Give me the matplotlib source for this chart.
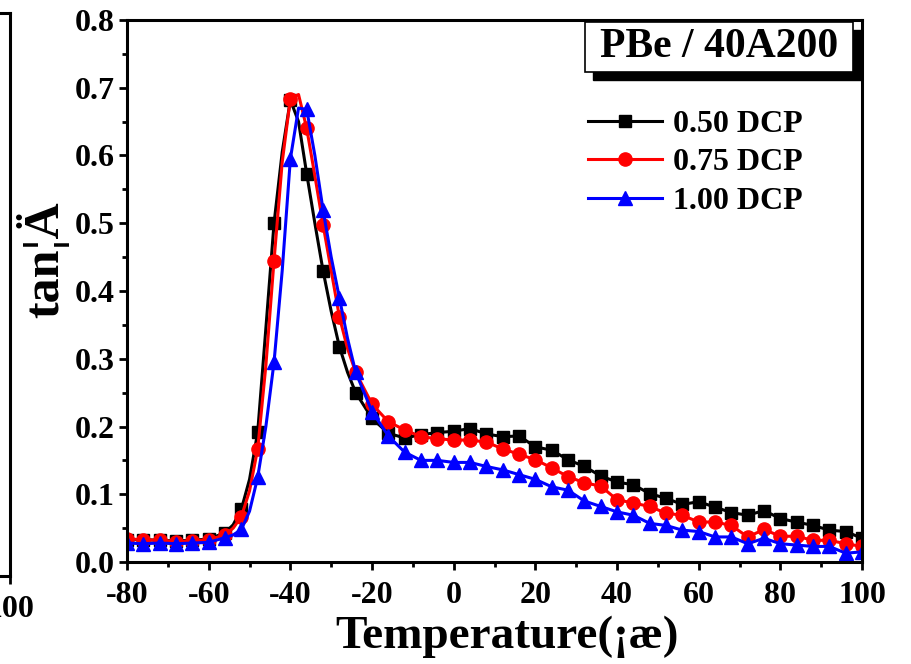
import numpy as np
import matplotlib
matplotlib.use('Agg')
import matplotlib.pyplot as plt
from matplotlib.patches import Rectangle

plt.rcParams['font.family'] = ['Liberation Serif', 'DejaVu Serif']
plt.rcParams['font.weight'] = 'bold'
plt.rcParams['axes.unicode_minus'] = False

# temperature (C), finer steps around the glass transition peak
temp = [-80, -76, -72, -68, -64, -60, -56,
        -54, -52, -50, -48, -46, -44, -42, -40, -38, -36, -34, -32, -30, -28, -26, -24,
        -20, -16, -12, -8, -4, 0, 4, 8, 12, 16, 20, 24, 28, 32, 36, 40, 44, 48,
        52, 56, 60, 64, 68, 72, 76, 80, 84, 88, 92, 96, 100]

dcp_050 = [0.033, 0.033, 0.032, 0.031, 0.032, 0.034, 0.043,
           0.055, 0.078, 0.122, 0.192, 0.345, 0.500, 0.605, 0.682, 0.650, 0.573, 0.500,
           0.430, 0.370, 0.318, 0.280, 0.250,
           0.212, 0.190, 0.183, 0.188, 0.191, 0.193, 0.197, 0.189, 0.185, 0.186, 0.170,
           0.165, 0.151, 0.141, 0.127, 0.118, 0.114, 0.101, 0.094, 0.085, 0.089, 0.081,
           0.073, 0.069, 0.076, 0.064, 0.059, 0.054, 0.047, 0.045, 0.035]

dcp_075 = [0.034, 0.033, 0.032, 0.030, 0.031, 0.033, 0.040,
           0.050, 0.067, 0.105, 0.167, 0.290, 0.445, 0.590, 0.684, 0.690, 0.640, 0.570,
           0.498, 0.430, 0.362, 0.315, 0.280,
           0.233, 0.207, 0.195, 0.185, 0.182, 0.180, 0.180, 0.177, 0.167, 0.159, 0.151,
           0.139, 0.126, 0.117, 0.112, 0.092, 0.087, 0.082, 0.072, 0.069, 0.059, 0.059,
           0.054, 0.037, 0.048, 0.038, 0.038, 0.032, 0.032, 0.027, 0.023]

dcp_100 = [0.028, 0.027, 0.028, 0.027, 0.028, 0.029, 0.036,
           0.040, 0.048, 0.075, 0.125, 0.200, 0.295, 0.430, 0.595, 0.670, 0.668, 0.600,
           0.520, 0.450, 0.390, 0.330, 0.280,
           0.222, 0.186, 0.162, 0.150, 0.150, 0.147, 0.147, 0.141, 0.136, 0.129, 0.122,
           0.111, 0.106, 0.090, 0.082, 0.074, 0.069, 0.057, 0.054, 0.047, 0.045, 0.037,
           0.037, 0.027, 0.035, 0.027, 0.025, 0.023, 0.023, 0.013, 0.015]

x_ticks = [-80, -60, -40, -20, 0, 20, 40, 60, 80, 100]
y_ticks = [0.0, 0.1, 0.2, 0.3, 0.4, 0.5, 0.6, 0.7, 0.8]

T = np.array(temp)
marks = list(T % 4 == 0)

fig = plt.figure(figsize=(9.12, 6.64), dpi=100)

# sliver of the neighbouring panel on the far left
ax0 = fig.add_axes([-0.5, 0.1325, 0.511, 0.8479])
ax0.set_xlim(-80, 100)
ax0.set_xticks(x_ticks)
ax0.set_yticks([])
for s in ax0.spines.values():
    s.set_linewidth(2.2)
ax0.tick_params(axis='x', direction='out', length=6, width=2, labelsize=23, pad=8)

ax = fig.add_axes([0.1393, 0.1536, 0.8059, 0.8163])

ax.plot(T, dcp_050, '-s', c='black', lw=2.2, ms=8.5, markevery=marks, label='0.50 DCP')
ax.plot(T, dcp_075, '-o', c='red', lw=2.2, ms=9.5, markevery=marks, label='0.75 DCP')
ax.plot(T, dcp_100, '-^', c='blue', lw=2.2, ms=10, markevery=marks, label='1.00 DCP')

ax.set_xlim(-80, 100)
ax.set_ylim(0, 0.8)
ax.set_xticks(x_ticks)
ax.set_yticks(y_ticks)
ax.set_yticklabels(['%.1f' % v for v in y_ticks])
ax.set_xticks(np.arange(-70, 100, 20), minor=True)
ax.set_yticks(np.arange(0.05, 0.8, 0.1), minor=True)
for s in ax.spines.values():
    s.set_linewidth(2.2)
ax.tick_params(which='major', direction='out', length=6, width=2, labelsize=23)
ax.tick_params(which='minor', direction='out', length=3.5, width=2)
ax.tick_params(axis='x', pad=8)
ax.tick_params(axis='y', pad=3)

ax.set_xlabel('Temperature(¡æ)', fontsize=34, fontweight='bold')
ax.set_ylabel('tan¦Ä', fontsize=36, fontweight='bold')
ax.xaxis.set_label_coords(0.517, -0.098)
ax.yaxis.set_label_coords(-0.078, 0.557)

# boxed sample title with drop shadow
ax.add_patch(Rectangle((0.634, 0.889), 0.365, 0.092, transform=ax.transAxes,
                       facecolor='black', edgecolor='black', clip_on=False, zorder=5))
ax.add_patch(Rectangle((0.623, 0.904), 0.365, 0.092, transform=ax.transAxes,
                       facecolor='white', edgecolor='black', lw=1.2, clip_on=False, zorder=6))
ax.text(0.805, 0.950, 'PBe / 40A200', transform=ax.transAxes, fontsize=30,
        fontweight='bold', ha='center', va='center', zorder=7)

ax.legend(loc='upper left', bbox_to_anchor=(0.61, 0.858), frameon=False, fontsize=23,
          handlelength=2.3, handletextpad=0.35, labelspacing=0.28, numpoints=1,
          borderaxespad=0)

plt.savefig('out.png', dpi=100)
